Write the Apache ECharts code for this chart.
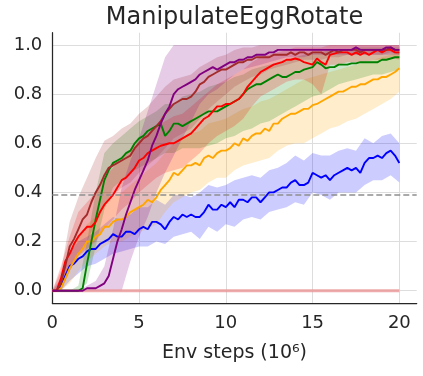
<!DOCTYPE html>
<html><head><meta charset="utf-8">
<script src="https://cdn.jsdelivr.net/npm/echarts@6/dist/echarts.min.js"></script>
<style>html,body{margin:0;padding:0;background:#fff}#c{width:423px;height:376px}</style>
</head><body><div id="c"></div>
<script>
const chartTitle = 'ManipulateEggRotate';
const xLabel = 'Env steps (10⁶)';
const xTicks = [0, 5, 10, 15, 20];
const yTicks = [0, 0.2, 0.4, 0.6, 0.8, 1.0];
const threshold = 0.392;
const meanStep = 0.25;   // x spacing (10^6 steps) of mean curves
const bandStep = 0.5;    // x spacing of band edges
const zeroStep = 5;

const blueMean = [0,0,0.02,0.06, 0.10,0.11,0.13,0.14, 0.16,0.17,0.17,0.19, 0.20,0.21,0.23,0.22, 0.22,0.24,0.24,0.23,
  0.25,0.26,0.25,0.28, 0.28,0.27,0.25,0.28, 0.30,0.29,0.31,0.30, 0.31,0.30,0.30,0.32, 0.35,0.33,0.33,0.35,
  0.34,0.36,0.34,0.37, 0.37,0.36,0.38,0.38, 0.36,0.38,0.40,0.40, 0.41,0.42,0.42,0.44, 0.45,0.43,0.43,0.44,
  0.48,0.47,0.46,0.47, 0.45,0.47,0.48,0.49, 0.50,0.49,0.50,0.48, 0.52,0.54,0.54,0.55, 0.54,0.56,0.57,0.55, 0.52];
const blueLo = [0,0,0.04,0.07,0.10, 0.11,0.13,0.15,0.16,0.17, 0.18,0.18,0.20,0.19,0.22, 0.23,0.24,0.21,0.26,0.24,
  0.27,0.26,0.29,0.30,0.29, 0.32,0.33,0.34,0.36,0.35, 0.40,0.39,0.37,0.40,0.40, 0.40,0.43,0.45,0.45,0.47, 0.44];
const blueHi = [0,0.05,0.16,0.20,0.22, 0.24,0.27,0.30,0.29,0.31, 0.34,0.34,0.37,0.35,0.39, 0.39,0.38,0.40,0.43,0.42,
  0.43,0.45,0.46,0.47,0.46, 0.49,0.50,0.52,0.55,0.53, 0.56,0.55,0.55,0.57,0.58, 0.57,0.62,0.60,0.63,0.64, 0.60];

const orangeMean = [0,0,0.01,0.05, 0.09,0.12,0.15,0.17, 0.20,0.20,0.22,0.23, 0.26,0.26,0.28,0.29, 0.29,0.30,0.32,0.33,
  0.34,0.35,0.37,0.36, 0.38,0.41,0.43,0.45, 0.48,0.47,0.49,0.51, 0.51,0.52,0.51,0.54, 0.55,0.54,0.56,0.57,
  0.57,0.58,0.60,0.59, 0.62,0.61,0.63,0.64, 0.64,0.66,0.65,0.68, 0.68,0.70,0.71,0.72, 0.72,0.73,0.74,0.74,
  0.755,0.76,0.77,0.78, 0.79,0.80,0.81,0.81, 0.82,0.83,0.83,0.84, 0.84,0.85,0.86,0.86, 0.87,0.87,0.88,0.89, 0.905];
const orangeLo = [0,0,0.03,0.08,0.12, 0.15,0.18,0.20,0.20,0.22, 0.24,0.25,0.27,0.32,0.36, 0.38,0.40,0.41,0.44,0.46,
  0.46,0.49,0.51,0.52,0.53, 0.54,0.57,0.59,0.60,0.60, 0.62,0.64,0.66,0.67,0.69, 0.70,0.72,0.74,0.76,0.78, 0.81];
const orangeHi = [0,0.04,0.15,0.22,0.27, 0.30,0.35,0.38,0.40,0.43, 0.46,0.49,0.52,0.56,0.60, 0.62,0.64,0.65,0.68,0.69,
  0.70,0.72,0.74,0.75,0.77, 0.78,0.80,0.82,0.84,0.86, 0.87,0.88,0.89,0.90,0.91, 0.92,0.93,0.94,0.95,0.96, 0.97];

const greenMean = [0,0,0,0, 0,0,0,0.01, 0.11,0.20,0.29,0.37, 0.45,0.49,0.52,0.53, 0.54,0.56,0.57,0.60,
  0.62,0.63,0.65,0.66, 0.67,0.68,0.63,0.65, 0.68,0.68,0.67,0.68, 0.69,0.70,0.71,0.72, 0.73,0.73,0.73,0.74,
  0.75,0.76,0.77,0.78, 0.80,0.82,0.83,0.84, 0.84,0.85,0.86,0.87, 0.88,0.87,0.87,0.88, 0.89,0.89,0.90,0.905,
  0.91,0.93,0.92,0.905, 0.91,0.91,0.92,0.92, 0.92,0.925,0.925,0.93, 0.93,0.93,0.93,0.93, 0.94,0.94,0.945,0.95, 0.95];
const greenLo = [0,0,0,0,0.03, 0.18,0.33,0.42,0.45,0.48, 0.50,0.52,0.54,0.56,0.56, 0.58,0.58,0.58,0.59,0.60,
  0.62,0.63,0.65,0.66,0.68, 0.69,0.71,0.73,0.75,0.77, 0.79,0.80,0.82,0.84,0.85, 0.86,0.87,0.88,0.88,0.89, 0.90];
const greenHi = [0,0,0,0.02,0.20, 0.40,0.56,0.60,0.63,0.66, 0.69,0.71,0.73,0.76,0.76, 0.79,0.80,0.81,0.83,0.84,
  0.85,0.87,0.88,0.90,0.91, 0.92,0.93,0.94,0.95,0.96, 0.97,0.97,0.98,0.98,0.98, 0.99,0.99,0.99,0.99,0.99, 0.99];

const redMean = [0,0,0.05,0.12, 0.15,0.19,0.22,0.24, 0.26,0.26,0.28,0.32, 0.35,0.37,0.39,0.42, 0.45,0.46,0.48,0.50,
  0.53,0.54,0.56,0.57, 0.58,0.59,0.595,0.60, 0.60,0.61,0.62,0.63, 0.64,0.66,0.68,0.70, 0.71,0.73,0.75,0.75,
  0.76,0.76,0.77,0.78, 0.80,0.83,0.85,0.87, 0.89,0.90,0.91,0.92, 0.925,0.93,0.94,0.94, 0.945,0.94,0.93,0.925,
  0.92,0.945,0.93,0.92, 0.96,0.965,0.97,0.97, 0.97,0.96,0.97,0.96, 0.97,0.96,0.97,0.98, 0.97,0.98,0.98,0.97, 0.97];
const redLo = [0,0,0.08,0.14,0.17, 0.20,0.25,0.29,0.33,0.36, 0.40,0.43,0.46,0.48,0.49, 0.50,0.53,0.56,0.60,0.63,
  0.65,0.67,0.70,0.75,0.79, 0.81,0.83,0.85,0.86,0.86, 0.84,0.80,0.92,0.92,0.93, 0.93,0.93,0.94,0.94,0.95, 0.94];
const redHi = [0,0.10,0.22,0.32,0.36, 0.40,0.46,0.50,0.54,0.57, 0.61,0.64,0.67,0.69,0.71, 0.72,0.75,0.78,0.81,0.84,
  0.86,0.88,0.90,0.93,0.95, 0.96,0.97,0.98,0.99,0.99, 0.99,0.99,1,1,1, 1,1,1,1,1, 1];

const brownMean = [0,0,0.03,0.10, 0.18,0.21,0.25,0.29, 0.31,0.36,0.40,0.43, 0.47,0.50,0.51,0.52, 0.53,0.54,0.55,0.58,
  0.60,0.62,0.63,0.65, 0.67,0.69,0.72,0.74, 0.76,0.77,0.78,0.78, 0.79,0.81,0.84,0.85, 0.87,0.88,0.89,0.90,
  0.90,0.91,0.92,0.93, 0.93,0.94,0.94,0.95, 0.95,0.95,0.95,0.96, 0.96,0.96,0.96,0.97, 0.96,0.97,0.97,0.96,
  0.97,0.97,0.97,0.96, 0.97,0.98,0.97,0.98, 0.98,0.98,0.98,0.97, 0.98,0.98,0.98,0.98, 0.98,0.98,0.99,0.98, 0.98];
const brownLo = [0,0,0.08,0.15,0.20, 0.28,0.35,0.39,0.42,0.44, 0.48,0.51,0.54,0.58,0.62, 0.64,0.66,0.70,0.74,0.77,
  0.80,0.83,0.85,0.87,0.88, 0.90,0.91,0.92,0.93,0.94, 0.94,0.94,0.95,0.95,0.96, 0.96,0.96,0.96,0.96,0.97, 0.96];
const brownHi = [0,0.08,0.28,0.38,0.46, 0.54,0.61,0.63,0.66,0.68, 0.72,0.75,0.79,0.83,0.86, 0.87,0.88,0.91,0.93,0.95,
  0.96,0.98,0.99,0.99,1, 1,1,1,1,1, 1,1,1,1,1, 1,1,1,1,1, 1];

const purpleMean = [0,0,0,0, 0,0,0,0, 0.01,0.01,0.01,0.02, 0.03,0.06,0.13,0.20, 0.25,0.31,0.36,0.41,
  0.45,0.49,0.53,0.59, 0.63,0.68,0.72,0.75, 0.80,0.82,0.83,0.84, 0.85,0.86,0.88,0.89, 0.90,0.91,0.90,0.91,
  0.92,0.93,0.93,0.94, 0.94,0.95,0.95,0.96, 0.96,0.96,0.97,0.97, 0.98,0.98,0.98,0.98, 0.98,0.98,0.98,0.98,
  0.98,0.98,0.98,0.98, 0.98,0.98,0.98,0.98, 0.98,0.98,0.99,0.98, 0.98,0.98,0.98,0.98, 0.98,0.99,0.99,0.98, 0.98];
const purpleLo = [0,0,0,0,0, 0,0,0,0,0.12, 0.22,0.30,0.40,0.48,0.55, 0.62,0.69,0.76,0.80,0.82,
  0.85,0.88,0.90,0.91,0.92, 0.93,0.94,0.95,0.95,0.95, 0.96,0.96,0.96,0.96,0.96, 0.96,0.96,0.96,0.96,0.96, 0.96];
const purpleHi = [0,0,0,0,0.02, 0.04,0.10,0.25,0.42,0.53, 0.62,0.73,0.84,0.95,1, 1,1,1,1,1,
  1,1,1,1,1, 1,1,1,1,1, 1,1,1,1,1, 1,1,1,1,1, 1];

const pinkMean = [0, 0, 0, 0, 0];

const runs = [
  {color: [0, 0, 255], mean: blueMean, lo: blueLo, hi: blueHi},
  {color: [255, 165, 0], mean: orangeMean, lo: orangeLo, hi: orangeHi},
  {color: [0, 128, 0], mean: greenMean, lo: greenLo, hi: greenHi},
  {color: [255, 0, 0], mean: redMean, lo: redLo, hi: redHi},
  {color: [165, 42, 42], mean: brownMean, lo: brownLo, hi: brownHi},
  {color: [128, 0, 128], mean: purpleMean, lo: purpleLo, hi: purpleHi}
];
const rgba = (c, a) => `rgba(${c[0]},${c[1]},${c[2]},${a})`;
const pairs = (step, arr) => arr.map((v, i) => [i * step, v]);

const FONT = '"DejaVu Sans", "Noto Sans", sans-serif';
const TXT = '#262626';

const series = [];
runs.forEach((r) => {
  const fill = rgba(r.color, 0.2);
  series.push({
    type: 'custom', silent: true, clip: true, z: 1,
    data: r.lo.map((v, i) => [i * bandStep, v, r.hi[i]]),
    encode: {x: 0, y: [1, 2]},
    renderItem: (params, api) => {
      if (params.dataIndex !== 0) return null;
      const n = r.lo.length, pts = [];
      for (let i = 0; i < n; i++) pts.push(api.coord([i * bandStep, r.hi[i]]));
      for (let i = n - 1; i >= 0; i--) pts.push(api.coord([i * bandStep, r.lo[i]]));
      return {type: 'polygon', shape: {points: pts}, style: {fill: fill, stroke: null}};
    }
  });
});
series.push({type: 'line', data: pairs(zeroStep, pinkMean), symbol: 'none',
  lineStyle: {color: 'rgba(235,150,150,0.8)', width: 3}, z: 2});
runs.forEach((r, k) => {
  const s = {type: 'line', data: pairs(meanStep, r.mean), symbol: 'none',
    lineStyle: {color: rgba(r.color, 1), width: 1.9}, z: 3};
  if (k === 0) {
    s.markLine = {silent: true, symbol: 'none', label: {show: false},
      lineStyle: {color: '#8f8f8f', type: [6, 3], width: 1.5},
      data: [{yAxis: threshold}]};
  }
  series.push(s);
});

const chart = echarts.init(document.getElementById('c'));
chart.setOption({
  animation: false,
  backgroundColor: '#fff',
  grid: {left: 52.3, right: 6.3, top: 32.7, bottom: 73},
  graphic: [{type: 'text', x: 234.5, y: 18,
    style: {text: chartTitle, font: '24px ' + FONT, fill: TXT, align: 'center', verticalAlign: 'middle',
      textAlign: 'center', textVerticalAlign: 'middle'}}],
  xAxis: {type: 'value', min: 0, max: 21,
    name: xLabel, nameLocation: 'middle', nameGap: 41,
    nameTextStyle: {fontSize: 19, color: TXT, fontFamily: FONT},
    axisLine: {show: true, onZero: false, lineStyle: {color: TXT, width: 1.25}},
    axisTick: {show: false, customValues: xTicks},
    axisLabel: {customValues: xTicks, fontSize: 18, color: TXT, fontFamily: FONT, margin: 11},
    splitLine: {show: true, lineStyle: {color: '#dddddd', width: 1}}},
  yAxis: {type: 'value', min: -0.05, max: 1.05,
    axisLine: {show: true, onZero: false, lineStyle: {color: TXT, width: 1.25}},
    axisTick: {show: false, customValues: yTicks},
    axisLabel: {customValues: yTicks, fontSize: 18, color: TXT, fontFamily: FONT, margin: 10,
      formatter: v => v.toFixed(1)},
    splitLine: {show: true, lineStyle: {color: '#dddddd', width: 1}}},
  series: series
});
</script>
</body></html>
